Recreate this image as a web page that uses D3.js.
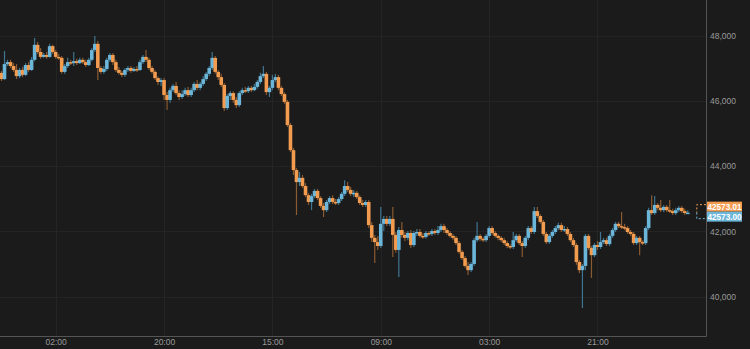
<!DOCTYPE html>
<html><head><meta charset="utf-8">
<script src="https://cdn.jsdelivr.net/npm/d3@7/dist/d3.min.js"></script>
<style>
html,body{margin:0;padding:0;background:#1b1b1b;}
svg{display:block;}
</style></head>
<body>
<svg id="chart" width="750" height="349"></svg>
<script>
// 30-minute candles
const opens = [
46860,46670,47130,47190,47070,46950,46760,46950,46800,47100,
46950,47260,47720,47500,47350,47410,47350,47680,47500,47350,
47320,46890,47070,47190,47160,47220,47160,47260,47190,47100,
47260,47560,47750,47010,46890,46980,47260,47410,47190,46950,
46860,46800,46950,47010,46920,46980,46950,47190,47350,47260,
47010,46890,46700,46580,46640,46180,46030,46330,46460,46240,
46120,46210,46330,46180,46330,46520,46400,46520,46670,46830,
47010,47320,46890,46730,46490,45780,46150,46240,46030,45870,
46240,46330,46300,46400,46330,46430,46580,46760,46830,46270,
46400,46640,46730,46400,46210,45970,45260,44490,43880,43510,
43640,43390,43110,42900,43080,43240,43020,42780,42650,42900,
43020,42900,42870,42990,43150,43390,43270,43150,43180,43050,
42870,42810,42900,42190,41800,41670,41550,42230,42380,42230,
42380,41890,41430,42040,41890,41800,41950,41580,41950,41980,
41860,41830,41950,41920,42010,41950,42040,42160,42040,41950,
41860,41800,41640,41370,41180,40940,40810,41000,41730,41860,
41770,41730,41860,42100,41950,41860,41800,41730,41640,41550,
41520,41730,41860,41640,41550,41800,42100,41980,42620,42470,
42290,41920,41670,41860,41980,42100,42190,42040,42070,41920,
41730,41580,41060,40810,40940,41860,41490,41270,41580,41520,
41670,41730,41610,41860,42040,42230,42160,42130,42100,41980,
41920,41640,41800,41670,41640,42100,42650,42560,42810,42720,
42650,42750,42650,42620,42560,42650,42720,42620,42560];

const highs = [
46920,47530,47260,47260,47160,47130,47010,47040,47160,47190,
47350,47930,47810,47620,47470,47500,47750,47720,47560,47440,
47380,47130,47320,47260,47500,47290,47320,47320,47260,47320,
47620,47990,47840,47070,47070,47320,47470,47470,47260,47040,
46920,47010,47070,47070,47040,47070,47260,47410,47560,47320,
47070,46950,46760,46700,46700,46270,46400,46520,46580,46330,
46330,46400,46430,46400,46580,46640,46580,46760,46890,47070,
47500,47380,46950,46830,46550,46210,46300,46300,46120,46300,
46400,46430,46460,46460,46520,46640,46860,47070,46890,46460,
46800,46830,46800,46460,46270,46030,45320,44560,43940,43820,
43730,43480,43180,43150,43300,43300,43080,42870,42960,43080,
43110,42990,43050,43210,43570,43510,43360,43270,43240,43110,
42960,42960,42960,42290,41890,41860,42750,42470,42470,42470,
42750,41980,42130,42290,41980,42010,42040,42010,42070,42070,
41950,42010,42010,42070,42070,42160,42230,42230,42100,42010,
41920,41860,41700,41430,41240,41060,41060,41800,42290,41920,
41830,41920,42160,42160,42010,41920,41860,41800,41700,41610,
41980,41920,41920,41700,41860,42160,42160,42750,42750,42530,
42350,41980,41920,42040,42160,42260,42260,42160,42130,41980,
41800,41640,41120,41000,41920,41920,41550,41640,41700,41980,
41800,41800,41920,42100,42290,42290,42590,42230,42160,42040,
41980,41860,41860,41730,42160,42720,43110,43080,42870,42960,
42810,42810,42960,42690,42720,42780,42780,42690,42650];

const lows = [
46610,46640,47070,47010,46890,46670,46700,46730,46760,46890,
46920,47220,47440,47290,47320,47290,47320,47440,47290,47260,
46830,46830,47010,47100,47070,47100,47130,47130,47040,47070,
47220,47500,46640,46830,46830,46920,47190,47100,46890,46800,
46730,46730,46890,46860,46890,46890,46920,47130,47190,46950,
46830,46640,46490,46460,46030,45720,45940,46270,46180,46030,
46060,46150,46120,46120,46270,46330,46330,46460,46610,46760,
46950,46830,46640,46430,45690,45720,46030,45940,45780,45810,
46180,46240,46240,46270,46300,46370,46520,46700,46180,46120,
46330,46580,46330,46150,45910,45200,44430,43730,42500,43390,
43330,43050,42810,42650,43020,42960,42720,42440,42590,42840,
42840,42810,42810,42930,43080,43210,43080,43050,42990,42810,
42750,42750,42100,41670,41030,41430,41490,42010,42160,42160,
41210,41340,40600,41800,41700,41730,41490,41520,41860,41800,
41770,41770,41860,41860,41890,41890,41980,41950,41890,41800,
41730,41580,41310,41120,40880,40660,40750,40940,41670,41700,
41670,41670,41800,41890,41800,41730,41670,41580,41490,41460,
41460,41670,41580,41210,41490,41730,41920,41920,42410,42230,
41860,41610,41610,41800,41920,42040,41980,41980,41860,41670,
41520,40970,40720,39650,40810,41430,40570,41210,41430,41460,
41610,41550,41550,41800,41980,42100,42070,42040,41920,41860,
41580,41580,41270,41580,41580,42040,42500,42500,42650,42590,
42590,42590,42560,42500,42500,42590,42560,42500,42530];

const closes = [
46670,47130,47190,47070,46950,46760,46950,46800,47100,46950,
47260,47720,47500,47350,47410,47350,47680,47500,47350,47320,
46890,47070,47190,47160,47220,47160,47260,47190,47100,47260,
47560,47750,47010,46890,46980,47260,47410,47190,46950,46860,
46800,46950,47010,46920,46980,46950,47190,47350,47260,47010,
46890,46700,46580,46640,46180,46030,46330,46460,46240,46120,
46210,46330,46180,46330,46520,46400,46520,46670,46830,47010,
47320,46890,46730,46490,45780,46150,46240,46030,45870,46240,
46330,46300,46400,46330,46430,46580,46760,46830,46270,46400,
46640,46730,46400,46210,45970,45260,44490,43880,43510,43640,
43390,43110,42900,43080,43240,43020,42780,42650,42900,43020,
42900,42870,42990,43150,43390,43270,43150,43180,43050,42870,
42810,42900,42190,41800,41670,41550,42230,42380,42230,42380,
41890,41430,42040,41890,41800,41950,41580,41950,41980,41860,
41830,41950,41920,42010,41950,42040,42160,42040,41950,41860,
41800,41640,41370,41180,40940,40810,41000,41730,41860,41770,
41730,41860,42100,41950,41860,41800,41730,41640,41550,41520,
41730,41860,41640,41550,41800,42100,41980,42620,42470,42290,
41920,41670,41860,41980,42100,42190,42040,42070,41920,41730,
41580,41060,40810,40940,41860,41490,41270,41580,41520,41670,
41730,41610,41860,42040,42230,42160,42130,42100,41980,41920,
41640,41800,41670,41640,42100,42650,42560,42810,42720,42650,
42750,42650,42620,42560,42650,42720,42620,42560,42573.01];

const xTickIndex = [18, 54, 90, 126, 162, 198];
const xTickLabels = ["02:00", "20:00", "15:00", "09:00", "03:00", "21:00"];
const yTicks = [40000, 42000, 44000, 46000, 48000];
const askPrice = 42573.01;
const bidPrice = 42573.00;

const UP = "#6bb6d9", DOWN = "#f39c4f";
const UP_WICK = "#3f7590", DOWN_WICK = "#8a5a30";

const svg = d3.select("#chart");
const W = 750, H = 349;
const plotRight = 706, plotBottom = 336;

const x = d3.scaleLinear().domain([0, closes.length - 1]).range([1.5, 687.8]);
const y = d3.scaleLinear().domain([38790, 49095]).range([plotBottom, 0]);

svg.append("rect").attr("width", W).attr("height", H).attr("fill", "#1b1b1b");

// grid
const g = svg.append("g");
g.selectAll(".hg").data(yTicks).enter().append("line")
  .attr("x1", 0).attr("x2", plotRight)
  .attr("y1", d => Math.round(y(d)) + 0.5).attr("y2", d => Math.round(y(d)) + 0.5)
  .attr("stroke", "#242424").attr("stroke-width", 1);
g.selectAll(".vg").data(xTickIndex).enter().append("line")
  .attr("x1", d => Math.round(x(d)) + 0.5).attr("x2", d => Math.round(x(d)) + 0.5)
  .attr("y1", 0).attr("y2", plotBottom)
  .attr("stroke", "#242424").attr("stroke-width", 1);

// candles
const data = closes.map((c, i) => ({i, o: opens[i], h: highs[i], l: lows[i], c}));
const cg = svg.append("g");
const bw = 3.6;
cg.selectAll(".wick").data(data).enter().append("line")
  .attr("x1", d => x(d.i)).attr("x2", d => x(d.i))
  .attr("y1", d => y(Math.max(d.h, d.o, d.c))).attr("y2", d => y(Math.min(d.l, d.o, d.c)))
  .attr("stroke", d => d.c >= d.o ? UP_WICK : DOWN_WICK).attr("stroke-width", 1.2);
cg.selectAll(".body").data(data).enter().append("rect")
  .attr("x", d => x(d.i) - bw / 2)
  .attr("width", bw)
  .attr("y", d => y(Math.max(d.o, d.c)))
  .attr("height", d => Math.max(1.5, Math.abs(y(d.o) - y(d.c))))
  .attr("fill", d => d.c >= d.o ? UP : DOWN);

// frame
svg.append("line").attr("x1", plotRight + 0.5).attr("x2", plotRight + 0.5).attr("y1", 0).attr("y2", plotBottom + 0.5)
  .attr("stroke", "#555").attr("stroke-width", 1);
svg.append("line").attr("x1", 0).attr("x2", plotRight + 0.5).attr("y1", plotBottom + 0.5).attr("y2", plotBottom + 0.5)
  .attr("stroke", "#555").attr("stroke-width", 1);

// y axis
const yAxis = d3.axisRight(y).tickValues(yTicks).tickSize(0).tickPadding(4)
  .tickFormat(d3.format(",.0f"));
const ya = svg.append("g").attr("transform", `translate(${plotRight},0)`).call(yAxis);
ya.select(".domain").remove();
ya.selectAll("text").attr("fill", "#9a9a9a").attr("font-size", "8.5px")
  .attr("font-family", "'Liberation Sans', Arial, sans-serif");

// x axis
const xAxis = d3.axisBottom(x).tickValues(xTickIndex).tickSize(0).tickPadding(3)
  .tickFormat((d, k) => xTickLabels[k]);
const xa = svg.append("g").attr("transform", `translate(0,${plotBottom})`).call(xAxis);
xa.select(".domain").remove();
xa.selectAll("text").attr("fill", "#9a9a9a").attr("font-size", "8.5px")
  .attr("font-family", "'Liberation Sans', Arial, sans-serif");

// price markers
const ay = y(askPrice), by = y(bidPrice);
const lx = plotRight + 1, lw = 35, lh = 10;
const bx = x(closes.length - 1) + 9;
svg.append("path")
  .attr("d", `M${plotRight},${ay - 8} H${bx} V${ay}`)
  .attr("fill", "none").attr("stroke", DOWN).attr("stroke-dasharray", "2,2").attr("stroke-width", 1);
svg.append("path")
  .attr("d", `M${bx},${ay} V${by + 6} H${plotRight}`)
  .attr("fill", "none").attr("stroke", UP).attr("stroke-dasharray", "2,2").attr("stroke-width", 1);

const labels = [
  {txt: d3.format(".2f")(askPrice), col: DOWN, top: ay - 11},
  {txt: d3.format(".2f")(bidPrice), col: UP, top: ay - 1}
];
const lg = svg.selectAll(".plabel").data(labels).enter().append("g");
lg.append("rect").attr("x", lx).attr("y", d => d.top).attr("width", lw).attr("height", lh).attr("fill", d => d.col);
lg.append("text").attr("x", lx + lw / 2).attr("y", d => d.top + lh / 2 + 3)
  .attr("text-anchor", "middle").attr("fill", "#fff").attr("font-size", "8.2px")
  .attr("font-weight", "bold")
  .attr("font-family", "'Liberation Sans', Arial, sans-serif").text(d => d.txt);
</script>
</body></html>
